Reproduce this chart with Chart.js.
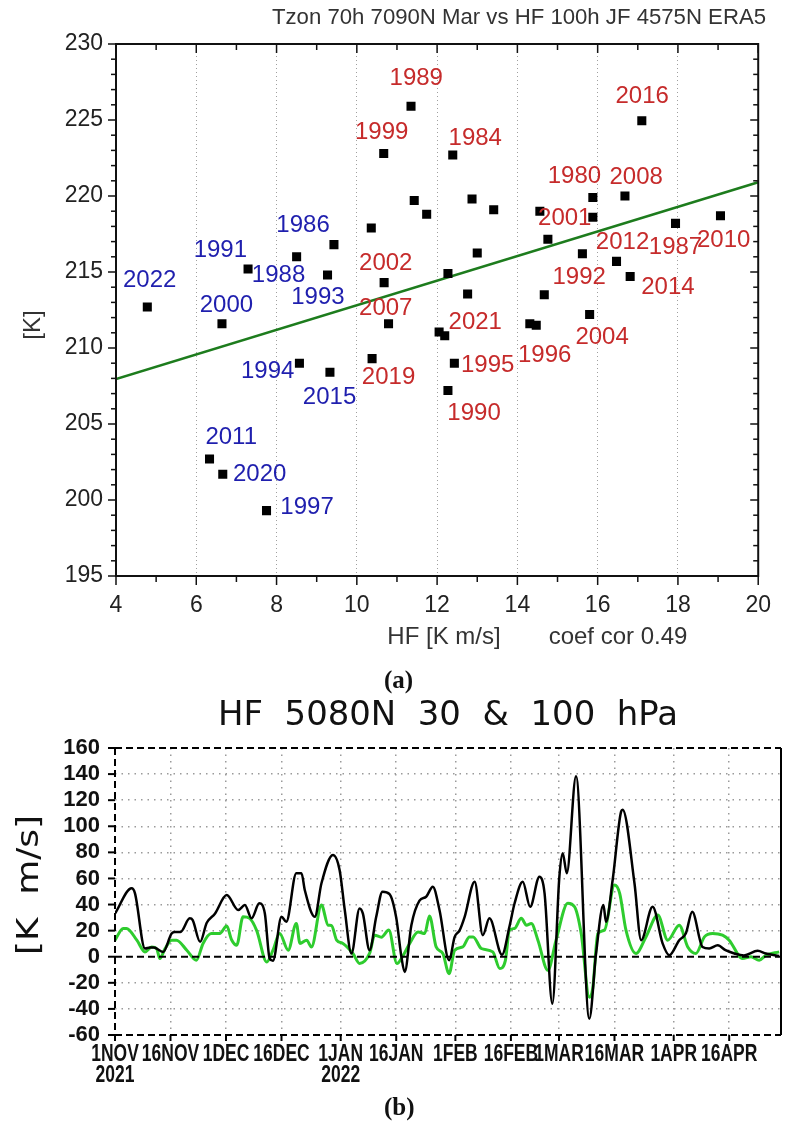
<!DOCTYPE html>
<html>
<head>
<meta charset="utf-8">
<script src="https://cdn.jsdelivr.net/npm/chart.js@4.4.1/dist/chart.umd.min.js"></script>
<style>
  html, body { margin: 0; padding: 0; background: #fff; }
  #wrap { position: relative; width: 787px; height: 1131px; overflow: hidden; }
  canvas { position: absolute; left: 0; }
  #cA { top: 0; }
  #cB { top: 650px; }
  .tag { position: absolute; font: bold 25px "Liberation Serif", "DejaVu Serif", serif; color: #111; }
</style>
</head>
<body>
<div id="wrap">
  <canvas id="cA" width="787" height="650"></canvas>
  <canvas id="cB" width="787" height="481"></canvas>
  <div class="tag" style="left:384px;top:666px">(a)</div>
  <div class="tag" style="left:384px;top:1093px">(b)</div>
</div>
<script>
// ---- (a) scatter: HF 100 hPa JF vs Tzon 70 hPa March ----
const hf = [4.78, 7.29, 8.50, 9.43, 9.27, 6.64, 8.57, 9.33, 6.33, 6.66,
            7.75, 11.35, 10.67, 12.39, 11.43, 11.74, 12.87, 13.41, 10.36, 10.68,
            12.27, 13.00, 12.76, 10.79, 10.38, 12.05, 12.19, 12.43, 12.27, 14.56,
            14.76, 14.67, 14.31, 14.47, 15.80, 15.88, 15.88, 16.68, 17.10, 15.62,
            16.47, 16.81, 17.94, 19.06];
const tzon = [212.7, 215.2, 216.0, 216.8, 214.8, 211.6, 209.0, 208.4, 202.7, 201.7,
              199.3, 225.9, 222.8, 222.7, 219.7, 218.8, 219.8, 219.1, 217.9, 214.3,
              214.9, 216.25, 213.55, 211.6, 209.3, 211.05, 210.8, 209.0, 207.2, 219.0,
              217.15, 213.5, 211.6, 211.5, 212.2, 219.9, 218.6, 220.0, 224.95, 216.2,
              215.7, 214.7, 218.2, 218.7];
const fitHF = [4, 20];
const fitTzon = [207.95, 220.9];
const blueYears = ['2022', '1991', '1988', '1986', '2000', '1993', '1994', '2015', '2011', '2020', '1997'];
const redYears = ['1989', '1999', '1984', '2002', '2007', '2021', '2001', '2016', '1980', '2008',
                  '2012', '1987', '2010', '1992', '2014', '2004', '2019', '1995', '1990', '1996'];

// where each year label sits, in data units
const labelAt = {
  '2022': [4.84, 214.47], '1991': [6.60, 216.45], '1988': [8.05, 214.80], '1986': [8.66, 218.09],
  '2000': [6.75, 212.83], '1993': [9.03, 213.36], '1994': [7.78, 208.49], '2015': [9.32, 206.78],
  '2011': [6.87, 204.14], '2020': [7.58, 201.71], '1997': [8.76, 199.54],
  '1989': [11.48, 227.76], '1999': [10.62, 224.21], '1984': [12.95, 223.82], '2002': [10.72, 215.59],
  '2007': [10.72, 212.63], '2021': [12.95, 211.71], '2001': [15.18, 218.55], '2016': [17.11, 226.58],
  '1980': [15.42, 221.32], '2008': [16.96, 221.25], '2012': [16.62, 216.97], '1987': [17.94, 216.64],
  '2010': [19.14, 217.11], '1992': [15.54, 214.67], '2014': [17.75, 214.01], '2004': [16.11, 210.72],
  '2019': [10.79, 208.09], '1995': [13.26, 208.88], '1990': [12.92, 205.72], '1996': [14.68, 209.54]
};

// ---- (b) daily heat flux 50-80N, 1 Nov 2021 .. 30 Apr 2022 (day 0 = 1 Nov) ----
const tickDays = [0, 15, 30, 45, 61, 76, 92, 107, 120, 135, 151, 166];
const tickNames = [['1NOV', '2021'], ['16NOV'], ['1DEC'], ['16DEC'], ['1JAN', '2022'], ['16JAN'],
                   ['1FEB'], ['16FEB'], ['1MAR'], ['16MAR'], ['1APR'], ['16APR']];

const blackDays = [0, 4.5, 5.4, 8.1, 9.5, 10.5, 13, 15.3, 16.2, 17.7, 20.2, 21, 23, 24.8, 27, 30.2, 33.3, 35.1, 36.9, 39,
                   40.5, 41.8, 42.7, 45, 46.3, 49, 50.4, 51.3, 54, 55.8, 58.9, 60.7, 62.1, 63.9, 66.1, 67, 68.8, 70.6, 72.3, 74.2,
                   76, 77.4, 78.3, 80.1, 82.3, 84.1, 85.9, 87.7, 90.3, 91.8, 93.1, 94.5, 97.2, 99.4, 101.2, 104.6, 106.6, 108, 110.2, 112.2,
                   114.7, 116.1, 118.2, 120.1, 121, 122.1, 124.6, 128.2, 130, 132, 132.7, 134.5, 136.8, 137.2, 140.4, 142.2, 145.3, 148, 149.8, 152.5,
                   154.3, 156, 158.8, 160.6, 162.9, 165, 167.4, 170, 173.7, 175.9, 179.5];
const blackHF = [33, 52.5, 48.6, 6.3, 7, 7, 3.7, 17.8, 19, 19, 29.4, 28, 11.4, 26, 33, 47.3, 35.8, 39.6, 29.4, 40.9,
                 33.2, -1.4, -3, 30.6, 26.8, 64, 64, 51, 30.6, 56.3, 78, 66.5, 35.8, 2.5, 37, 33, 5, 30.6, 49.9, 48,
                 30, 0, -11.7, 24.2, 43, 46, 53.7, 35.8, -2.7, 15.2, 20, 30.6, 57.5, 16.5, 29.4, 1.5, 23, 41, 57.5, 38.3,
                 61.4, 48.6, -36, 61.4, 79.4, 64, 138.3, -47.5, 2, 39.6, 26.8, 58.8, 111.4, 112.7, 56.3, 12.7, 38.3, 10.2, 1.1, 12.7,
                 18, 34.5, 7.5, 6.3, 8.8, 5, 2.5, 1, 4.5, 2.5, 0.5];

const greenDays = [0, 2.2, 3.1, 5.9, 8.1, 9.9, 11.3, 12.1, 13.5, 15.3, 16.6, 19.4, 22, 23.8, 26, 28.3, 30.2, 31.5, 32.9, 34.6,
                   36.4, 38.3, 41, 42.7, 44.5, 46.8, 49, 50, 51.8, 53.1, 55.8, 57.6, 58.5, 59.9, 61.6, 64.3, 66.1, 68.8, 70.2, 72,
                   74, 76.2, 77.7, 79.6, 81.9, 83.7, 85, 86.8, 88.6, 90.3, 91.8, 94, 95.8, 96.8, 99, 102.1, 104, 105.5, 106.6, 108,
                   109.8, 111.2, 112.5, 114.3, 117, 119.2, 122.4, 124.2, 126, 128.2, 129.1, 130.5, 132.3, 135, 136.4, 138.1, 140.8, 143.5, 146.7, 149.4,
                   152.5, 154.8, 157, 159.3, 161.5, 164.2, 166, 169.6, 171.9, 174.1, 175.9, 179.5];
const greenHF = [12.7, 21.7, 21.7, 12.7, 3.7, 7.5, 6, -1.4, 6, 12.7, 12.7, 5, -2.7, 10.2, 17.8, 17.8, 23.5, 13, 8.8, 30.6,
                 29.4, 20, -4, 5, 17.8, 5, 25.5, 10.2, 12.7, 7.5, 39.6, 24.2, 24, 12.7, 10.2, 2.5, -5.2, 2.5, 16.5, 15,
                 20.4, -5.2, 0, 10, 19, 17.8, 31.2, 7.5, 2.5, -13, 5, 7.5, 15.2, 15.2, 6.3, 3.7, -9, -3, 20.4, 21.7,
                 29.4, 24.2, 25.5, 12.7, -10.4, 12.7, 41, 38.3, 17.8, -31, -24.5, 17.8, 20.4, 55, 48.6, 20.4, 2.5, 15.2, 32, 12.7,
                 24.2, 7.5, 2.5, 15.2, 17.8, 16.5, 12.7, -1.4, 0, -2.7, 1, 3.7];

function seg(ctx, x1, y1, x2, y2) {
  ctx.beginPath(); ctx.moveTo(x1, y1); ctx.lineTo(x2, y2); ctx.stroke();
}

// fit a string into a given width by scaling it horizontally
function fitText(ctx, text, x, y, width, align) {
  const w = ctx.measureText(text).width;
  const k = width / w;
  ctx.save();
  ctx.translate(x, y);
  ctx.scale(k, 1);
  ctx.textAlign = align;
  ctx.fillText(text, 0, 0);
  ctx.restore();
}

const scatterDecor = {
  id: 'scatterDecor',
  afterDraw(chart) {
    const { ctx, chartArea: a, scales: { x, y } } = chart;
    ctx.save();
    ctx.strokeStyle = '#111';
    ctx.lineWidth = 1.5;
    for (let v = 4; v <= 20; v++) {
      const p = x.getPixelForValue(v);
      const L = v % 2 === 0 ? 9 : 6;
      seg(ctx, p, a.bottom, p, a.bottom + L);
      seg(ctx, p, a.top, p, a.top + L);
    }
    for (let v = 195; v <= 230; v++) {
      const p = y.getPixelForValue(v);
      const L = v % 5 === 0 ? 8 : 5;
      seg(ctx, a.left - L, p, a.left, p);
      seg(ctx, a.right - L, p, a.right, p);
    }
    ctx.lineWidth = 2;
    ctx.strokeRect(a.left, a.top, a.right - a.left, a.bottom - a.top);

    ctx.textBaseline = 'middle';
    ctx.textAlign = 'center';
    ctx.font = '24px "Liberation Sans", Arial, sans-serif';
    const put = (yr, col) => {
      const [lx, ly] = labelAt[yr];
      ctx.fillStyle = col;
      ctx.fillText(yr, x.getPixelForValue(lx), y.getPixelForValue(ly));
    };
    blueYears.forEach(yr => put(yr, '#1f1fae'));
    redYears.forEach(yr => put(yr, '#c62b2b'));

    ctx.fillStyle = '#333';
    ctx.font = '22px "Liberation Sans", Arial, sans-serif';
    fitText(ctx, 'Tzon 70h 7090N Mar vs HF 100h JF 4575N ERA5', 766, 18, 494, 'right');
    ctx.font = '24px "Liberation Sans", Arial, sans-serif';
    ctx.textAlign = 'center';
    ctx.fillText('HF [K m/s]', 444, 637);
    ctx.fillText('coef cor 0.49', 618, 637);
    ctx.save();
    ctx.translate(33, 325);
    ctx.rotate(-Math.PI / 2);
    ctx.fillText('[K]', 0, 0);
    ctx.restore();
    ctx.restore();
  }
};

new Chart(document.getElementById('cA'), {
  type: 'scatter',
  data: {
    datasets: [
      {
        data: hf.map((v, i) => ({ x: v, y: tzon[i] })),
        pointStyle: 'rect',
        pointRadius: 6.4,
        backgroundColor: '#000',
        borderWidth: 0
      },
      {
        type: 'line',
        data: fitHF.map((v, i) => ({ x: v, y: fitTzon[i] })),
        borderColor: '#1d7c1d',
        borderWidth: 2.5,
        pointRadius: 0
      }
    ]
  },
  options: {
    responsive: false,
    animation: false,
    layout: { padding: { top: 44, right: 18, left: 0, bottom: 0 } },
    plugins: { legend: { display: false }, tooltip: { enabled: false } },
    scales: {
      x: {
        type: 'linear', min: 4, max: 20,
        ticks: { stepSize: 2, color: '#222', padding: 16, font: { family: '"Liberation Sans", Arial, sans-serif', size: 23 } },
        grid: { drawTicks: false, lineWidth: 1, color: c => (c.tick.value === 4 || c.tick.value === 20) ? 'rgba(0,0,0,0)' : '#a0a0a0' },
        border: { display: false, dash: [1, 3] },
        afterFit: s => { s.height = 74; }
      },
      y: {
        min: 195, max: 230,
        ticks: { stepSize: 5, color: '#222', padding: 13, font: { family: '"Liberation Sans", Arial, sans-serif', size: 23 } },
        grid: { display: false, drawTicks: false },
        border: { display: false },
        afterFit: s => { s.width = 116; }
      }
    }
  },
  plugins: [scatterDecor]
});

const fluxDecor = {
  id: 'fluxDecor',
  afterDraw(chart) {
    const { ctx, chartArea: a, scales: { x, y } } = chart;
    ctx.save();
    ctx.strokeStyle = '#000';
    ctx.lineWidth = 2;
    ctx.setLineDash([7, 4]);
    const z = y.getPixelForValue(0);
    seg(ctx, a.left, z, a.right, z);
    seg(ctx, a.left, a.top, a.right, a.top);
    seg(ctx, a.left, a.top, a.left, a.bottom);
    seg(ctx, a.left, a.bottom, a.right, a.bottom);
    ctx.setLineDash([]);
    seg(ctx, a.right, a.top, a.right, a.bottom);
    for (let v = -60; v <= 160; v += 20) {
      const p = y.getPixelForValue(v);
      seg(ctx, a.left - 7, p, a.left, p);
    }

    // condensed date labels under each tick
    ctx.fillStyle = '#111';
    ctx.textBaseline = 'middle';
    ctx.font = 'bold 23px "Liberation Sans", Arial, sans-serif';
    tickDays.forEach((d, i) => {
      const p = x.getPixelForValue(d);
      seg(ctx, p, a.bottom, p, a.bottom + 6);
      tickNames[i].forEach((t, j) => {
        ctx.save();
        ctx.translate(p, a.bottom + 20 + j * 21);
        ctx.scale(0.76, 1);
        ctx.textAlign = 'center';
        ctx.fillText(t, 0, 0);
        ctx.restore();
      });
    });

    ctx.font = '33px "DejaVu Sans", sans-serif';
    fitText(ctx, 'HF  5080N  30  &  100  hPa', 218, 66, 460, 'left');
    ctx.save();
    ctx.translate(30, 235);
    ctx.rotate(-Math.PI / 2);
    ctx.font = '31px "DejaVu Sans", sans-serif';
    fitText(ctx, '[K  m/s]', 0, 0, 140, 'center');
    ctx.restore();
    ctx.restore();
  }
};

new Chart(document.getElementById('cB'), {
  type: 'line',
  data: {
    datasets: [
      {
        data: blackDays.map((d, i) => ({ x: d, y: blackHF[i] })),
        borderColor: '#000',
        borderWidth: 2.5,
        pointRadius: 0,
        cubicInterpolationMode: 'monotone'
      },
      {
        data: greenDays.map((d, i) => ({ x: d, y: greenHF[i] })),
        borderColor: '#2ecc2e',
        borderWidth: 3,
        pointRadius: 0,
        cubicInterpolationMode: 'monotone'
      }
    ]
  },
  options: {
    responsive: false,
    animation: false,
    layout: { padding: { top: 98, right: 6, left: 0, bottom: 0 } },
    plugins: { legend: { display: false }, tooltip: { enabled: false } },
    scales: {
      x: {
        type: 'linear', min: 0, max: 180,
        afterBuildTicks: s => { s.ticks = tickDays.map(v => ({ value: v })); },
        ticks: { display: false, autoSkip: false },
        grid: { drawTicks: false, lineWidth: 1.5, color: c => (c.tick && c.tick.value === 0) ? 'rgba(0,0,0,0)' : '#9a9a9a' },
        border: { display: false, dash: [1.5, 5] },
        afterFit: s => { s.height = 96; }
      },
      y: {
        min: -60, max: 160,
        ticks: { stepSize: 20, autoSkip: false, color: '#111', padding: 15, font: { family: '"Liberation Sans", Arial, sans-serif', size: 22, weight: 'bold' } },
        grid: { drawTicks: false, lineWidth: 1.5, color: c => [-60, 0, 160].includes(c.tick.value) ? 'rgba(0,0,0,0)' : '#9a9a9a' },
        border: { display: false, dash: [1.5, 5] },
        afterFit: s => { s.width = 115; }
      }
    }
  },
  plugins: [fluxDecor]
});
</script>
</body>
</html>
